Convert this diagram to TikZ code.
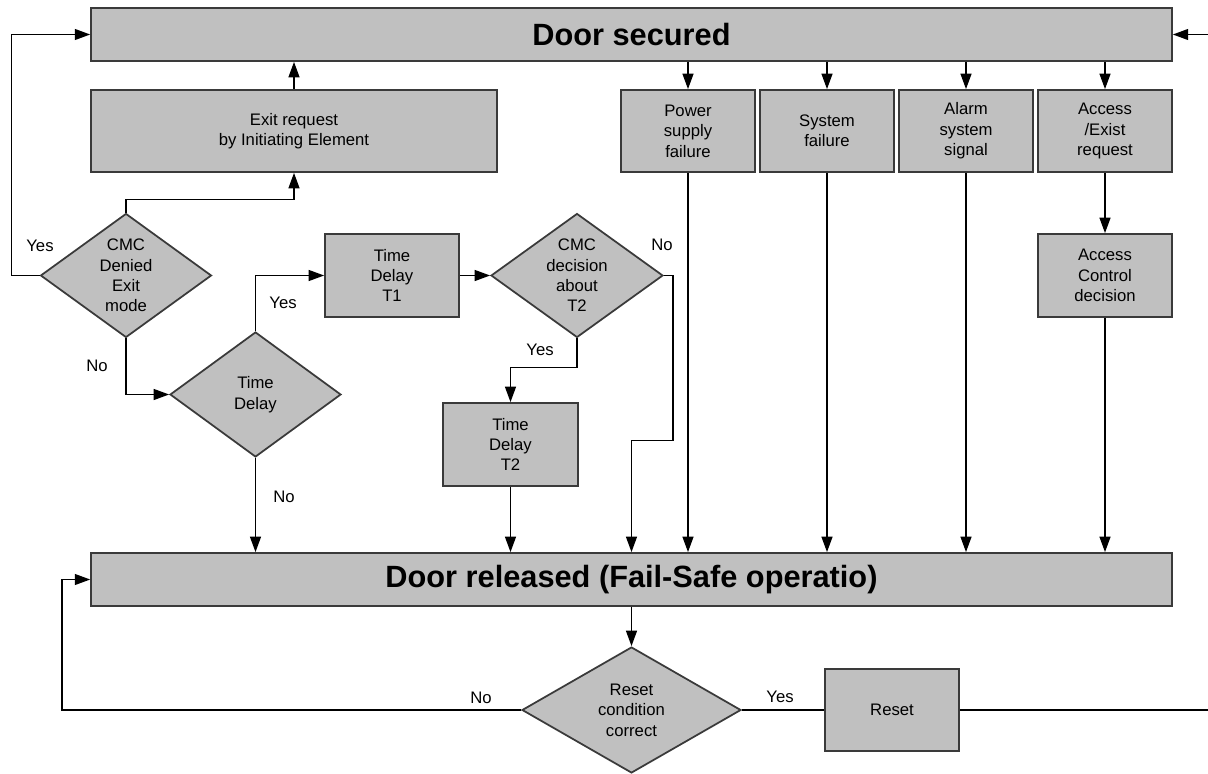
\documentclass[tikz,border=0pt]{standalone}
\usepackage{fontspec}
\setmainfont{Liberation Sans}
\usetikzlibrary{arrows.meta,shapes.geometric}

\definecolor{boxgray}{HTML}{C0C0C0}
\definecolor{edgegray}{HTML}{3A3A3A}

\tikzset{
  box/.style={draw=edgegray, line width=1pt, fill=boxgray, align=center,
    minimum width=2.68cm, minimum height=1.64cm, inner sep=2pt,
    font=\fontsize{9.5}{11.6}\selectfont},
  bar/.style={box, minimum width=21.62cm, minimum height=1.06cm,
    font=\fontsize{17.5}{21}\selectfont\bfseries},
  decision/.style={diamond, draw=edgegray, line width=1pt, fill=boxgray,
    align=center, inner sep=-12pt, font=\fontsize{9.5}{11.6}\selectfont},
  arr/.style={-{Triangle[length=8.8pt, width=6.2pt]}, line width=0.9pt},
  lbl/.style={font=\fontsize{9.5}{11.6}\selectfont, inner sep=0pt}
}

\begin{document}
\begin{tikzpicture}[x=0.02cm, y=-0.02cm]
  \path[use as bounding box, clip] (0,0) rectangle (1208,774);

  % Door states
  \node[bar] (secured) at (631.5,34.5) {Door secured};
  \node[bar] (released) at (631.5,579.5) {Door released (Fail-Safe operatio)};

  % Exit request branch
  \node[box, minimum width=8.12cm] (exitreq) at (294,131) {Exit request\\by Initiating Element};
  \node[decision, minimum width=3.42cm, minimum height=2.48cm] (cmcdenied) at (126,275.5) {CMC\\Denied\\Exit\\mode};
  \node[decision, minimum width=3.42cm, minimum height=2.5cm] (timedelay) at (255.5,394.5) {Time\\Delay};
  \node[box, minimum height=1.66cm] (t1) at (392,275.5) {Time\\Delay\\T1};
  \node[decision, minimum width=3.44cm, minimum height=2.48cm] (cmcdecision) at (577,275.5) {CMC\\decision\\about\\T2};
  \node[box, minimum width=2.7cm, minimum height=1.66cm] (t2) at (510.5,444.5) {Time\\Delay\\T2};

  % Events from secured state
  \node[box] (power) at (688,131) {Power\\supply\\failure};
  \node[box] (sysfail) at (827,131) {System\\failure};
  \node[box] (alarm) at (966,131) {Alarm\\system\\signal};
  \node[box] (access) at (1105,131) {Access\\/Exist\\request};
  \node[box, minimum height=1.66cm] (acd) at (1105,275.5) {Access\\Control\\decision};

  % Reset loop
  \node[decision, minimum width=4.38cm, minimum height=2.52cm] (resetcond) at (631.5,710) {Reset\\condition\\correct};
  \node[box] (reset) at (892,710) {Reset};

  % Connectors of the exit request branch
  \draw[arr] (cmcdenied.west) -- ++(-28,0) |- (secured.west);
  \draw[arr] (cmcdenied.north) -- ++(0,-13) -| (exitreq.south);
  \draw[arr] (exitreq.north) -- (exitreq.north |- secured.south);
  \draw[arr] (cmcdenied.south) |- (timedelay.west);
  \draw[arr] (timedelay.north) |- (t1.west);
  \draw[arr] (t1.east) -- (cmcdecision.west);
  \draw[arr] (cmcdecision.south) -- ++(0,29) -| (t2.north);
  \draw[arr] (cmcdecision.east) -- ++(9,0) -- ++(0,165) -| (released.north);
  \draw[arr] (t2.south) -- (t2.south |- released.north);
  \draw[arr] (timedelay.south) -- (timedelay.south |- released.north);

  % Connectors of the events
  \foreach \ev in {power,sysfail,alarm,access}
    \draw[arr] (secured.south -| \ev.north) -- (\ev.north);
  \foreach \ev in {power,sysfail,alarm,acd}
    \draw[arr] (\ev.south) -- (\ev.south |- released.north);
  \draw[arr] (access.south) -- (acd.north);

  % Connectors of the reset loop
  \draw[arr] (released.south) -- (resetcond.north);
  \draw[arr] (resetcond.west) -- ++(-459,0) |- (released.west);
  \draw[line width=0.9pt] (resetcond.east) -- (reset.west);
  \draw[arr] (reset.east) -- (1214,710) |- (secured.east);

  % Yes / No labels
  \node[lbl] (yesdenied) at (40,246) {Yes};
  \node[lbl] (nodenied) at (97,366) {No};
  \node[lbl] (yesdelay) at (283,303) {Yes};
  \node[lbl] (nodelay) at (284,497) {No};
  \node[lbl] (yesdecision) at (540,350) {Yes};
  \node[lbl] (nodecision) at (662,245) {No};
  \node[lbl] (noreset) at (481,698) {No};
  \node[lbl] (yesreset) at (780,697) {Yes};
\end{tikzpicture}
\end{document}
